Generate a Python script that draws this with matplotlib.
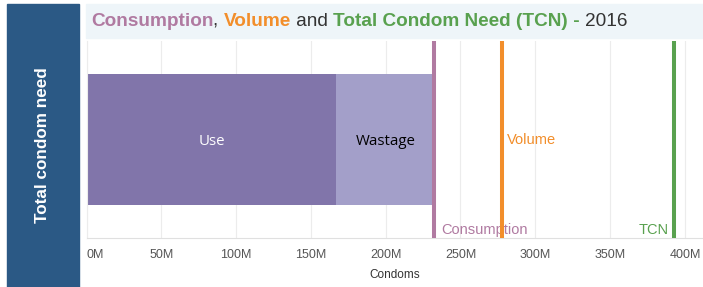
import matplotlib
matplotlib.use("Agg")
import matplotlib.pyplot as plt
from matplotlib.patches import Rectangle

plt.rcParams['font.family'] = ['Liberation Sans', 'DejaVu Sans']

# Data (millions of condoms)
segments = ["Use", "Wastage"]
segment_values = [167.0, 65.5]
ref_names = ["Consumption", "Volume", "TCN"]
ref_values = [232.5, 277.7, 392.6]
tick_values = [0, 50, 100, 150, 200, 250, 300, 350, 400]
tick_labels = ["0M", "50M", "100M", "150M", "200M", "250M", "300M", "350M", "400M"]

W, H = 703, 287
fig = plt.figure(figsize=(W / 100, H / 100), dpi=100)
fig.patch.set_facecolor("white")

def fx(px):
    return px / W

def fy(py):
    return 1 - py / H

# Left blue panel
fig.patches.append(Rectangle((fx(7), fy(287)), fx(79) - fx(7), fy(4) - fy(287),
                             transform=fig.transFigure, color="#2b5985", zorder=0))
fig.text(fx(43), fy(145), "Total condom need", rotation=90, color="white",
         fontsize=12.3, fontweight="bold", ha="center", va="center")

# Title banner
fig.patches.append(Rectangle((fx(86), fy(38)), fx(703) - fx(86), fy(4) - fy(38),
                             transform=fig.transFigure, color="#eef5f9", zorder=0))

c_cons = "#b07aa1"
c_vol = "#f28e2b"
c_tcn = "#59a14f"
title_parts = [("Consumption", c_cons, "bold"), (", ", "#333333", "normal"),
               ("Volume", c_vol, "bold"), (" and ", "#333333", "normal"),
               ("Total Condom Need (TCN)", c_tcn, "bold"), (" - ", c_tcn, "bold"),
               ("2016", "#333333", "normal")]
renderer = fig.canvas.get_renderer()
x = fx(91)
for txt, col, wt in title_parts:
    t = fig.text(x, fy(21), txt, color=col, fontweight=wt, fontsize=13.7,
                 ha="left", va="center")
    bb = t.get_window_extent(renderer=renderer)
    x += bb.width / W

# Main axes
ax = fig.add_axes([fx(86.5), fy(238), fx(703) - fx(86.5), fy(41) - fy(238)])
xmax = (703 - 86.5) / 1.496
ax.set_xlim(0, xmax)
ax.set_ylim(0, 1)

for v in tick_values:
    ax.axvline(v, color="#ececec", lw=0.8, zorder=0)

seg_colors = ["#8175aa", "#a39fc9"]
seg_text_colors = ["white", "#000000"]
left = 0
for name, val, col, tcol in zip(segments, segment_values, seg_colors, seg_text_colors):
    ax.barh(0.5, val, left=left, height=0.67, color=col, zorder=2)
    ax.text(left + val / 2, 0.49, name, color=tcol, fontsize=10.8,
            family=["Open Sans", "DejaVu Sans"], ha="center", va="center", zorder=3)
    left += val

ref_colors = [c_cons, c_vol, c_tcn]
for name, val, col in zip(ref_names, ref_values, ref_colors):
    ax.axvline(val, color=col, lw=2.9, zorder=4)

ax.text(ref_values[0] + 4.5, 0.04, ref_names[0], color=c_cons, fontsize=10.5,
        ha="left", va="center")
ax.text(ref_values[1] + 3.5, 0.495, ref_names[1], color=c_vol, fontsize=10.5,
        ha="left", va="center")
ax.text(ref_values[2] - 3.5, 0.04, ref_names[2], color=c_tcn, fontsize=10.5,
        ha="right", va="center")

for s in ["top", "right"]:
    ax.spines[s].set_visible(False)
ax.spines["left"].set_color("#ececec")
ax.spines["bottom"].set_color("#e0e0e0")
ax.spines["left"].set_linewidth(0.8)
ax.spines["bottom"].set_linewidth(0.8)

ax.set_yticks([])
ax.set_xticks(tick_values)
ax.set_xticklabels(tick_labels, fontsize=9, color="#555555")
ax.tick_params(axis="x", length=0, pad=8)
ax.get_xticklabels()[0].set_ha("left")
ax.set_xlabel("Condoms", fontsize=8.5, color="#333333", labelpad=6)

fig.savefig("out.png", dpi=100)
